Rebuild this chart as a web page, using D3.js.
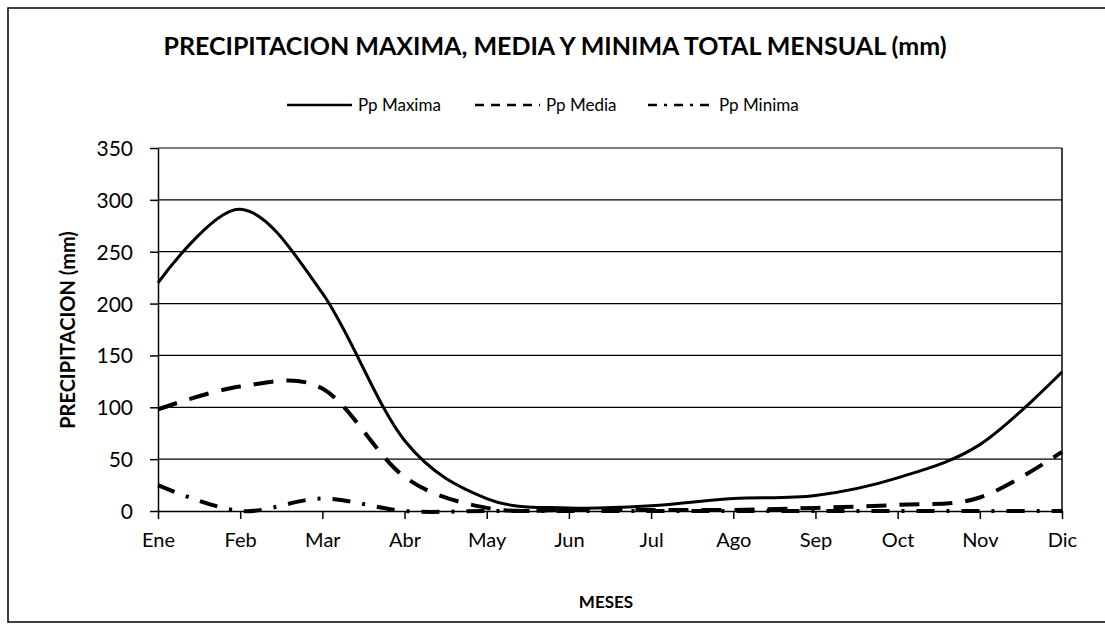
<!DOCTYPE html>
<html>
<head>
<meta charset="utf-8">
<script src="https://cdn.jsdelivr.net/npm/d3@7"></script>
<style>
  body { margin: 0; background: #fff; }
  text { font-family: Lato, "Liberation Sans", Arial, sans-serif; fill: #000; }
</style>
</head>
<body>
<div class="chart"></div>
<script>
var months = ["Ene", "Feb", "Mar", "Abr", "May", "Jun", "Jul", "Ago", "Sep", "Oct", "Nov", "Dic"];
var ppMaxima = [220, 291, 210, 68, 12, 3, 5, 12, 15, 32, 64, 134];
var ppMedia = [98, 120, 118, 33, 3, 1, 1, 1, 3, 6, 13, 57];
var ppMinima = [25, 0, 12, 0, 0, 0, 0, 0, 0, 0, 0, 0];
var yTicks = [0, 50, 100, 150, 200, 250, 300, 350];
var seriesNames = ["Pp Maxima", "Pp Media", "Pp Minima"];

var svgWidth = 1105;
var svgHeight = 626;
var margin = {top: 148, right: 43, bottom: 115, left: 158};
var width = svgWidth - margin.left - margin.right;
var height = svgHeight - margin.top - margin.bottom;

var svg = d3.select(".chart")
  .append("svg")
  .attr("width", svgWidth)
  .attr("height", svgHeight);

// outer frame (right side runs off the picture)
svg.append("rect")
  .attr("x", 8)
  .attr("y", 8)
  .attr("width", 1110)
  .attr("height", 614)
  .attr("fill", "none")
  .attr("stroke", "#000")
  .attr("stroke-width", 1.5);

var chartGroup = svg.append("g")
  .attr("transform", `translate(${margin.left},${margin.top})`);

var xScale = d3.scalePoint()
  .domain(months)
  .range([0, width]);

var yScale = d3.scaleLinear()
  .domain([0, 350])
  .range([height, 0]);

// gridlines
chartGroup.selectAll(".grid")
  .data(yTicks.filter(d => d > 0))
  .enter()
  .append("line")
  .attr("x1", 0)
  .attr("x2", width)
  .attr("y1", d => yScale(d))
  .attr("y2", d => yScale(d))
  .attr("stroke", "#000")
  .attr("stroke-width", 1.2);

// right edge of plot
chartGroup.append("line")
  .attr("x1", width).attr("x2", width)
  .attr("y1", 0).attr("y2", height)
  .attr("stroke", "#000")
  .attr("stroke-width", 1.5);

var bottomAxis = d3.axisBottom(xScale).tickSizeInner(8).tickSizeOuter(0).tickPadding(28);
var leftAxis = d3.axisLeft(yScale).tickValues(yTicks).tickSizeInner(8).tickSizeOuter(0).tickPadding(17);

var xAxisG = chartGroup.append("g")
  .attr("transform", `translate(0, ${height})`)
  .call(bottomAxis);

var yAxisG = chartGroup.append("g")
  .call(leftAxis);

[xAxisG, yAxisG].forEach(function(g) {
  g.selectAll("path, line").attr("stroke", "#000").attr("stroke-width", 1.5);
  g.selectAll("text").attr("fill", "#000");
});
xAxisG.selectAll("text").style("font-size", "20px").attr("dy", "0");
yAxisG.selectAll("text").style("font-size", "21px").attr("dy", "0.36em");

// lines
var line = d3.line()
  .x((d, i) => xScale(months[i]))
  .y(d => yScale(d))
  .curve(d3.curveCardinal.tension(0));

var styles = [
  {data: ppMaxima, dash: null, w: 3},
  {data: ppMedia, dash: "20,13", w: 4},
  {data: ppMinima, dash: "18,12,3,12", w: 4}
];

styles.forEach(function(s) {
  chartGroup.append("path")
    .datum(s.data)
    .attr("d", line)
    .attr("fill", "none")
    .attr("stroke", "#000")
    .attr("stroke-width", s.w)
    .attr("stroke-dasharray", s.dash);
});

// title
svg.append("text")
  .attr("x", 555)
  .attr("y", 55)
  .attr("text-anchor", "middle")
  .style("font-size", "25px")
  .style("font-weight", "bold")
  .text("PRECIPITACION MAXIMA, MEDIA Y MINIMA TOTAL MENSUAL (mm)");

// legend
var legendItems = [
  {x: 287, dash: null},
  {x: 475, dash: "9,7"},
  {x: 648, dash: "9,7,3,7"}
];
legendItems.forEach(function(l, i) {
  svg.append("line")
    .attr("x1", l.x).attr("x2", l.x + 65)
    .attr("y1", 105).attr("y2", 105)
    .attr("stroke", "#000")
    .attr("stroke-width", 2.5)
    .attr("stroke-dasharray", l.dash);
  svg.append("text")
    .attr("x", l.x + 71)
    .attr("y", 111)
    .style("font-size", "17px")
    .text(seriesNames[i]);
});

// axis labels
svg.append("text")
  .attr("transform", "rotate(-90)")
  .attr("x", -330)
  .attr("y", 75)
  .attr("text-anchor", "middle")
  .style("font-size", "20px")
  .style("font-weight", "bold")
  .text("PRECIPITACION (mm)");

svg.append("text")
  .attr("x", 606)
  .attr("y", 608)
  .attr("text-anchor", "middle")
  .style("font-size", "17px")
  .style("font-weight", "bold")
  .text("MESES");
</script>
</body>
</html>
